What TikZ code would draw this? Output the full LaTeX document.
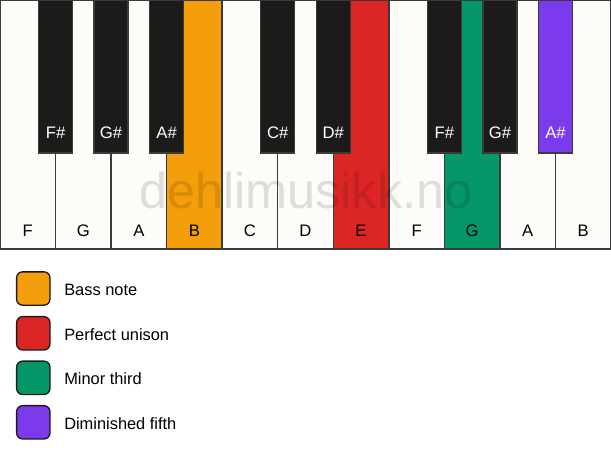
\documentclass[tikz,border=0pt]{standalone}
\usepackage{fontspec}
\setmainfont{Liberation Sans}
\usepackage{xcolor}
\definecolor{keyline}{RGB}{58,58,58}
\definecolor{ivory}{RGB}{253,252,249}
\definecolor{ebony}{RGB}{28,27,26}
\definecolor{bassnote}{RGB}{245,158,11}
\definecolor{unison}{RGB}{220,38,38}
\definecolor{minthird}{RGB}{5,150,105}
\definecolor{dimfifth}{RGB}{124,58,237}

\begin{document}
\begin{tikzpicture}[x=0.75pt,y=0.75pt,yscale=-1,xscale=1,
  whitekey/.style={draw=keyline,line width=1.1pt,fill=ivory,rectangle,anchor=north west,inner sep=0pt,outer sep=0pt,minimum width=41.66pt,minimum height=186.75pt},
  blackkey/.style={draw=keyline,line width=1.1pt,fill=ebony,rectangle,anchor=north,inner sep=0pt,outer sep=0pt,minimum width=25.5pt,minimum height=114.75pt},
  whitelabel/.style={inner sep=0.75pt,font=\fontsize{12.5}{15}\selectfont,text=black},
  blacklabel/.style={inner sep=0.75pt,font=\fontsize{12.5}{15}\selectfont,text=white},
  swatch/.style={draw=ebony,line width=1pt,rounded corners=4.5pt,minimum width=25pt,minimum height=25pt,inner sep=0pt},
  legendtext/.style={anchor=west,inner sep=0.75pt,font=\fontsize{12.3}{14}\selectfont}]
\useasboundingbox (0,0) rectangle (611,461);
\fill[white] (0,0) rectangle (611,461);

%White keys
\node[whitekey] (kF) at (0,0) {};
\node[whitekey] (kG) at (55.55,0) {};
\node[whitekey] (kA) at (111.09,0) {};
\node[whitekey,fill=bassnote] (kB) at (166.64,0) {};
\node[whitekey] (kC) at (222.18,0) {};
\node[whitekey] (kD) at (277.73,0) {};
\node[whitekey,fill=unison] (kE) at (333.27,0) {};
\node[whitekey] (kFF) at (388.82,0) {};
\node[whitekey,fill=minthird] (kGG) at (444.36,0) {};
\node[whitekey] (kAA) at (499.91,0) {};
\node[whitekey] (kBB) at (555.45,0) {};

% Watermark
\node[anchor=base,inner sep=0pt,font=\fontsize{37.8}{42}\selectfont,text=black,text opacity=0.12] (mark) at (305.8,208.5) {dehlimusikk.no};

%Black keys
\node[blackkey] (kFs) at (55.55,0) {};
\node[blackkey] (kGs) at (111.09,0) {};
\node[blackkey] (kAs) at (166.64,0) {};
\node[blackkey] (kCs) at (277.73,0) {};
\node[blackkey] (kDs) at (333.27,0) {};
\node[blackkey] (kFFs) at (444.36,0) {};
\node[blackkey] (kGGs) at (499.91,0) {};
\node[blackkey,fill=dimfifth] (kAAs) at (555.45,0) {};

% Text Node
\node[whitelabel] (lF) at (27.77,230.5) {F};
\node[whitelabel] (lG) at (83.32,230.5) {G};
\node[whitelabel] (lA) at (138.86,230.5) {A};
\node[whitelabel] (lB) at (194.41,230.5) {B};
\node[whitelabel] (lC) at (249.95,230.5) {C};
\node[whitelabel] (lD) at (305.5,230.5) {D};
\node[whitelabel] (lE) at (361.05,230.5) {E};
\node[whitelabel] (lFF) at (416.59,230.5) {F};
\node[whitelabel] (lGG) at (472.14,230.5) {G};
\node[whitelabel] (lAA) at (527.68,230.5) {A};
\node[whitelabel] (lBB) at (583.23,230.5) {B};
% Text Node
\node[blacklabel] (lFs) at (55.55,133) {F\#};
\node[blacklabel] (lGs) at (111.09,133) {G\#};
\node[blacklabel] (lAs) at (166.64,133) {A\#};
\node[blacklabel] (lCs) at (277.73,133) {C\#};
\node[blacklabel] (lDs) at (333.27,133) {D\#};
\node[blacklabel] (lFFs) at (444.36,133) {F\#};
\node[blacklabel] (lGGs) at (499.91,133) {G\#};
\node[blacklabel] (lAAs) at (555.45,133) {A\#};

%Legend
\node[swatch,fill=bassnote] (sBass) at (33.3,288.5) {};
\node[swatch,fill=unison] (sUni) at (33.3,333.3) {};
\node[swatch,fill=minthird] (sThird) at (33.3,377.8) {};
\node[swatch,fill=dimfifth] (sFifth) at (33.3,422.3) {};
% Text Node
\node[legendtext] (tBass) at (63,289.5) {Bass note};
\node[legendtext] (tUni) at (63,334.3) {Perfect unison};
\node[legendtext] (tThird) at (63,378.8) {Minor third};
\node[legendtext] (tFifth) at (63,423.3) {Diminished fifth};

\end{tikzpicture}
\end{document}
